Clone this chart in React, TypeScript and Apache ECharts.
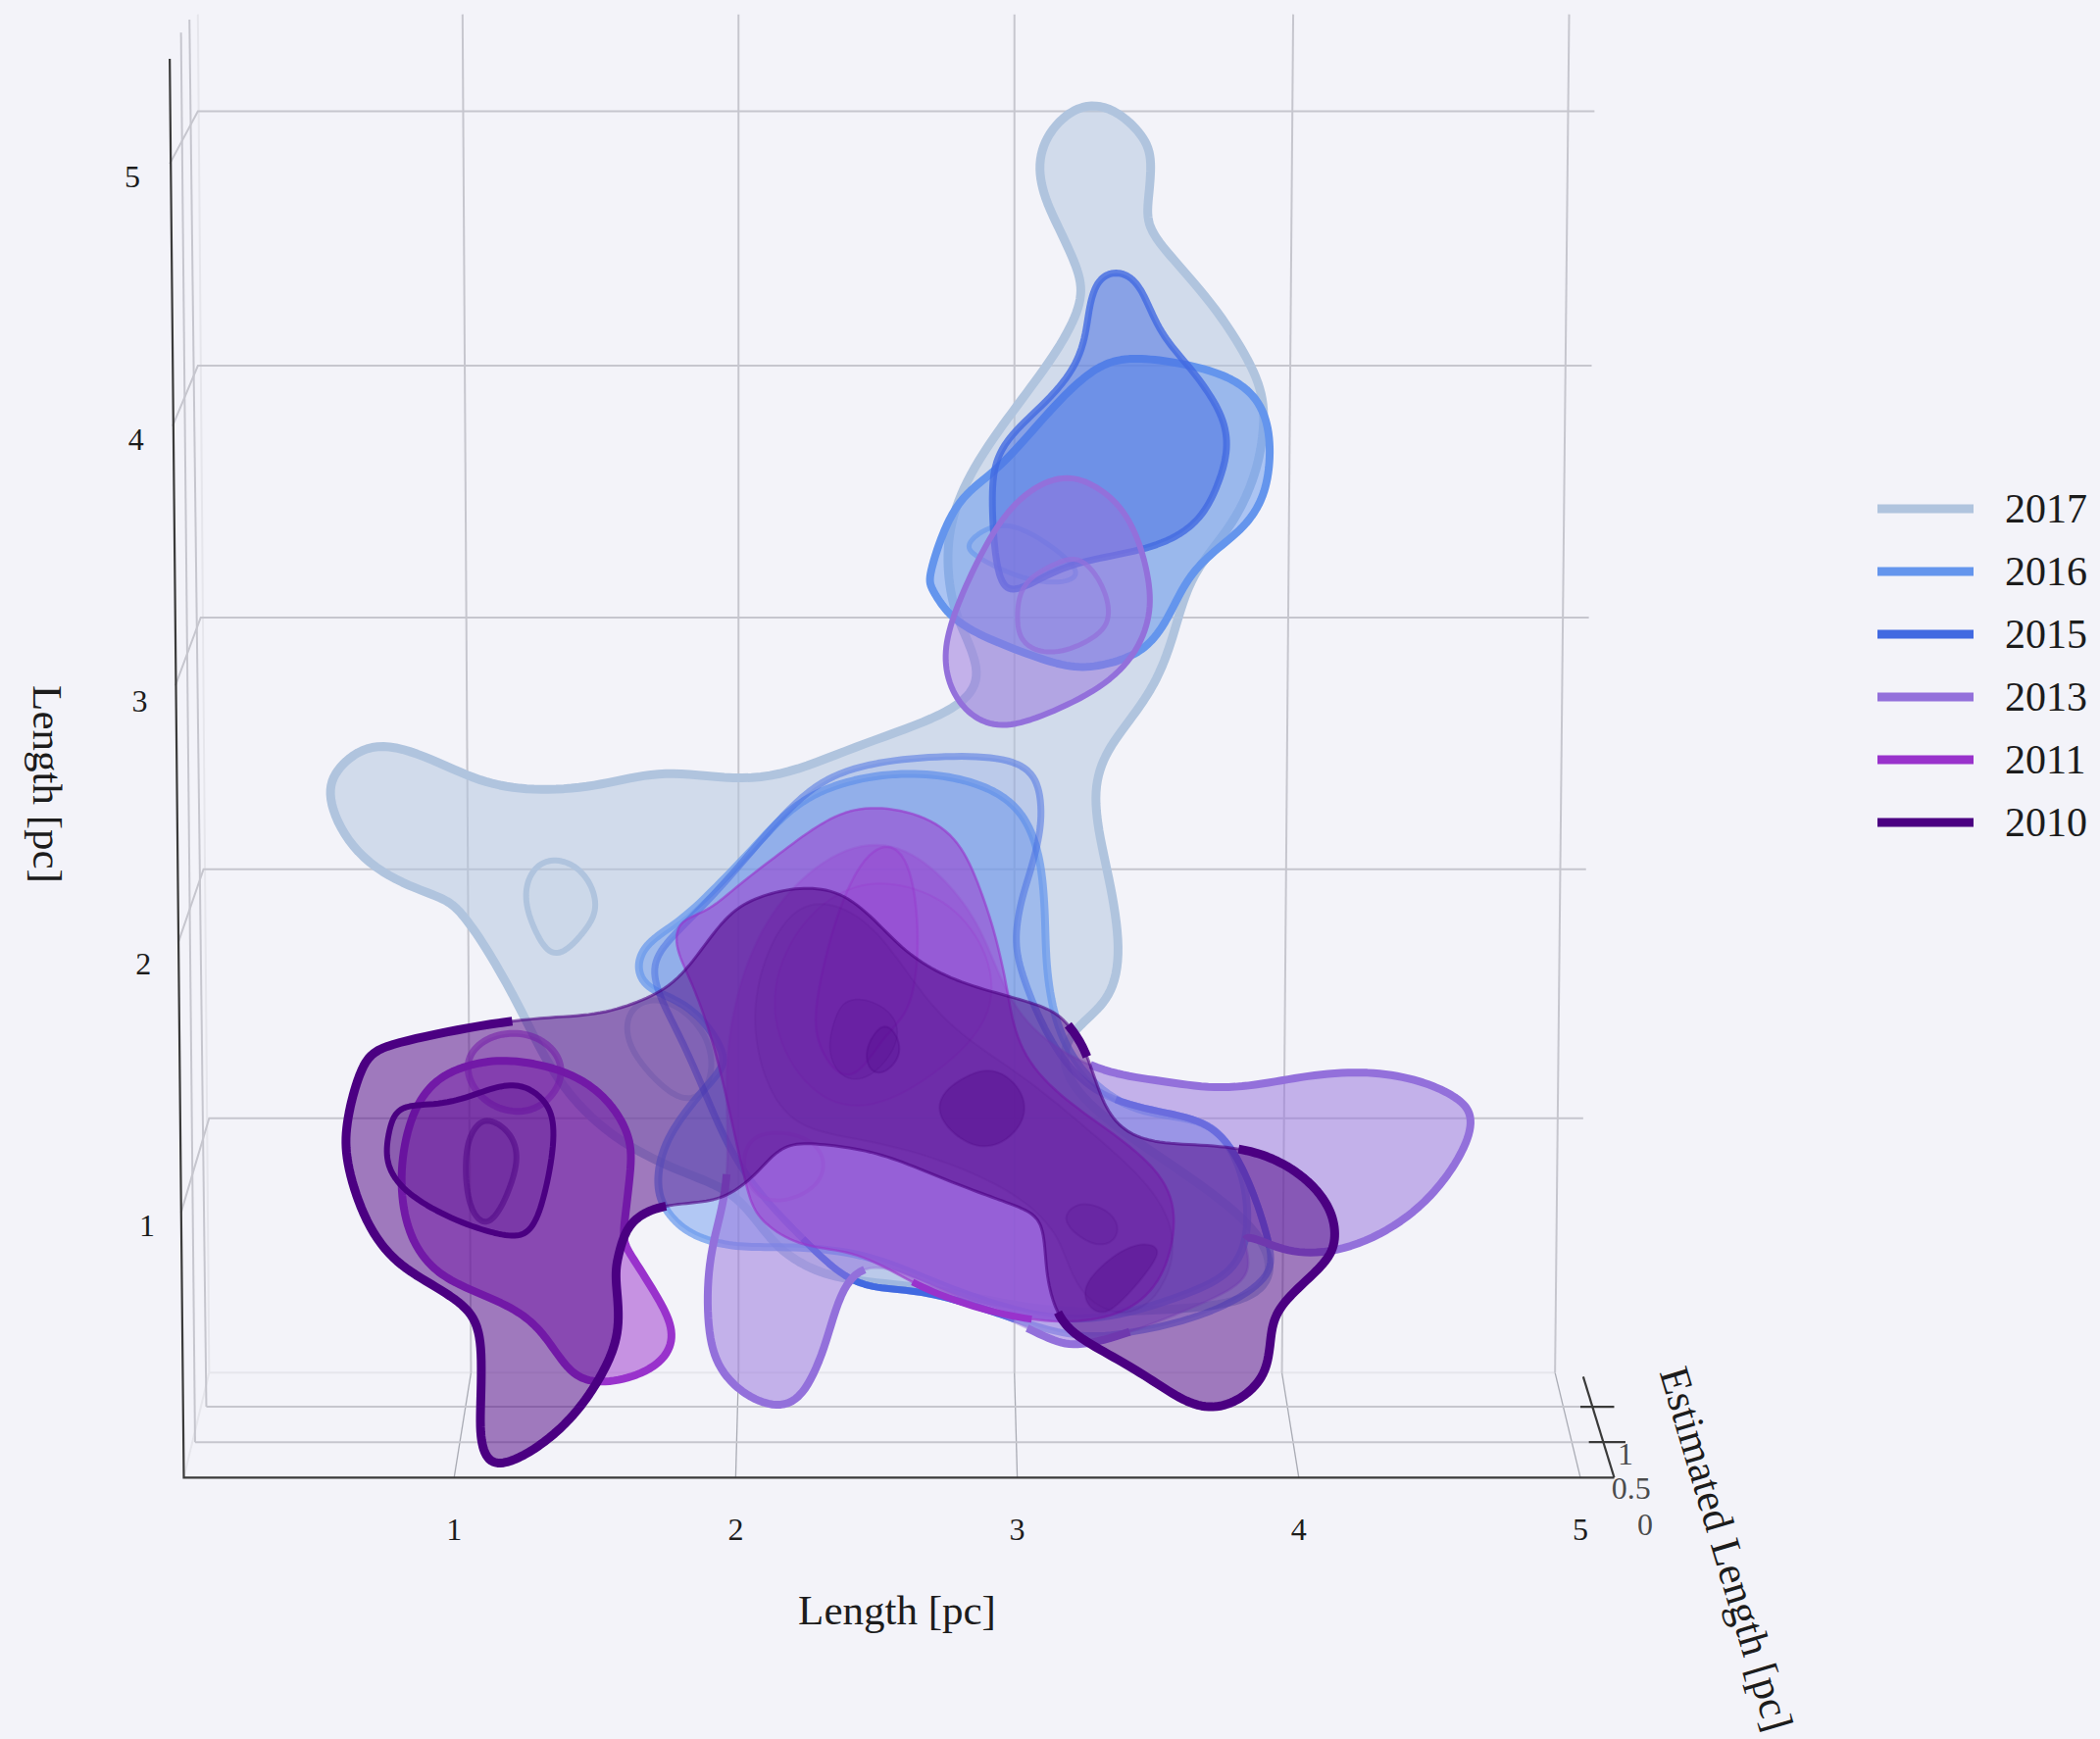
import React, { useEffect, useRef } from "react";
import * as echarts from "echarts";

type P = [number, number];

const xTicks = [1, 2, 3, 4, 5];
const yTicks = [1, 2, 3, 4, 5];
const depthTicks: { name: string; at: P }[] = [
  { name: "1", at: [5.16, 0.13] },
  { name: "0.5", at: [5.18, 0.0] },
  { name: "0", at: [5.23, -0.14] },
];

// ---- contours, in pc ----
const c2017Outer: P[] = [[3.28,5.29],[3.43,5.18],[3.48,5.06],[3.46,4.88],[3.49,4.76],[3.67,4.55],[3.84,4.27],[3.88,4.08],[3.84,3.84],[3.74,3.64],[3.62,3.48],[3.56,3.27],[3.48,3.04],[3.34,2.85],[3.27,2.66],[3.31,2.40],[3.37,2.05],[3.31,1.84],[3.19,1.74],[3.17,1.54],[3.48,1.28],[3.79,1.05],[3.91,0.85],[3.81,0.71],[3.48,0.68],[3.10,0.67],[2.72,0.76],[2.41,0.79],[2.24,0.85],[2.12,0.95],[2.01,1.11],[1.85,1.19],[1.60,1.31],[1.38,1.53],[1.25,1.80],[1.12,2.05],[1.02,2.20],[0.94,2.26],[0.69,2.37],[0.55,2.62],[0.60,2.76],[0.76,2.85],[1.03,2.72],[1.25,2.66],[1.53,2.68],[1.77,2.74],[2.09,2.69],[2.42,2.83],[2.77,2.96],[2.87,3.11],[2.79,3.30],[2.75,3.51],[2.78,3.76],[2.93,4.03],[3.10,4.27],[3.22,4.49],[3.22,4.64],[3.13,4.84],[3.07,5.03],[3.13,5.20]];
const c2017RingA: P[] = [[1.36,2.40],[1.46,2.35],[1.51,2.22],[1.46,2.12],[1.36,2.02],[1.29,2.12],[1.25,2.25],[1.28,2.36]];
const c2017RingB: P[] = [[1.60,1.74],[1.70,1.57],[1.85,1.46],[1.93,1.63],[1.83,1.82],[1.67,1.87]];

const c2016Upper: P[] = [[2.69,3.49],[2.78,3.76],[2.92,3.87],[3.10,4.09],[3.27,4.27],[3.41,4.31],[3.57,4.29],[3.75,4.24],[3.87,4.13],[3.90,3.95],[3.87,3.76],[3.77,3.63],[3.63,3.51],[3.55,3.35],[3.46,3.20],[3.31,3.14],[3.18,3.13],[2.99,3.20],[2.78,3.30],[2.70,3.43]];
const c2016Ring: P[] = [[2.82,3.60],[2.91,3.67],[3.02,3.66],[3.16,3.56],[3.22,3.48],[3.13,3.45],[2.99,3.48],[2.86,3.55]];
const c2016Mid: P[] = [[2.50,2.72],[2.72,2.72],[2.90,2.67],[3.03,2.56],[3.09,2.35],[3.10,2.10],[3.12,1.84],[3.22,1.59],[3.43,1.43],[3.65,1.41],[3.77,1.28],[3.82,1.08],[3.79,0.85],[3.60,0.74],[3.29,0.64],[3.00,0.67],[2.67,0.80],[2.43,0.90],[2.14,0.92],[2.01,0.92],[1.85,0.96],[1.75,1.06],[1.72,1.18],[1.77,1.37],[1.93,1.57],[1.96,1.66],[1.84,1.84],[1.69,1.90],[1.65,2.00],[1.70,2.09],[1.80,2.16],[1.93,2.29],[2.09,2.47],[2.25,2.64]];

const c2015Upper: P[] = [[3.36,4.64],[3.44,4.58],[3.50,4.42],[3.60,4.29],[3.71,4.13],[3.75,3.98],[3.71,3.82],[3.63,3.67],[3.46,3.58],[3.25,3.54],[3.10,3.48],[2.99,3.42],[2.93,3.48],[2.91,3.76],[2.93,3.95],[3.05,4.09],[3.21,4.27],[3.25,4.46],[3.28,4.60]];
const c2015Mid: P[] = [[2.41,2.75],[2.72,2.79],[2.98,2.78],[3.08,2.68],[3.08,2.48],[3.03,2.30],[2.99,2.10],[3.03,1.92],[3.15,1.64],[3.34,1.47],[3.61,1.42],[3.75,1.32],[3.84,1.12],[3.90,0.91],[3.88,0.79],[3.67,0.66],[3.39,0.59],[3.20,0.58],[3.00,0.64],[2.72,0.74],[2.53,0.76],[2.39,0.80],[2.24,0.95],[2.08,1.13],[1.96,1.33],[1.86,1.59],[1.77,1.79],[1.70,1.97],[1.77,2.10],[1.96,2.30],[2.20,2.61]];

const c2013Upper: P[] = [[3.15,3.86],[3.28,3.82],[3.40,3.70],[3.47,3.46],[3.46,3.27],[3.34,3.08],[3.10,2.95],[2.93,2.90],[2.80,2.98],[2.74,3.14],[2.77,3.32],[2.87,3.56],[2.99,3.76]];
const c2013UpperRing: P[] = [[3.22,3.55],[3.30,3.45],[3.33,3.32],[3.27,3.24],[3.13,3.18],[3.02,3.22],[3.00,3.32],[3.02,3.45],[3.13,3.52]];
const c2013Mid: P[] = [[2.48,2.48],[2.72,2.35],[2.89,2.10],[3.00,1.79],[3.27,1.60],[3.48,1.56],[3.73,1.52],[3.96,1.56],[4.20,1.59],[4.41,1.56],[4.56,1.49],[4.62,1.40],[4.55,1.22],[4.37,1.01],[4.10,0.89],[3.91,0.92],[3.79,0.97],[3.84,0.82],[3.67,0.71],[3.39,0.59],[3.19,0.54],[3.06,0.60],[2.72,0.76],[2.44,0.87],[2.34,0.62],[2.25,0.36],[2.12,0.31],[1.96,0.42],[1.90,0.61],[1.91,0.92],[1.98,1.18],[1.96,1.59],[2.03,1.99],[2.20,2.30]];
const c2013MidRing: P[] = [[2.12,1.36],[2.27,1.33],[2.32,1.22],[2.25,1.12],[2.10,1.09],[2.03,1.20],[2.04,1.31]];

const c2011Mid: P[] = [[2.51,2.60],[2.74,2.53],[2.85,2.34],[2.93,2.08],[2.97,1.87],[3.03,1.62],[3.26,1.41],[3.52,1.20],[3.56,0.97],[3.48,0.74],[3.29,0.64],[3.05,0.64],[2.82,0.70],[2.63,0.78],[2.43,0.90],[2.24,0.92],[2.09,1.02],[2.04,1.14],[1.98,1.43],[1.91,1.74],[1.83,1.96],[1.79,2.06],[1.80,2.16],[1.90,2.20],[2.01,2.30],[2.17,2.43],[2.34,2.56]];
const c2011Left: P[] = [[1.23,1.63],[1.47,1.56],[1.61,1.38],[1.63,1.23],[1.60,0.98],[1.62,0.90],[1.74,0.70],[1.78,0.56],[1.70,0.45],[1.53,0.40],[1.41,0.44],[1.32,0.59],[1.19,0.70],[1.00,0.78],[0.87,0.90],[0.81,1.11],[0.83,1.36],[0.92,1.55],[1.08,1.62]];
const c2011Circle: P[] = [[1.21,1.74],[1.33,1.70],[1.39,1.59],[1.33,1.47],[1.22,1.43],[1.10,1.48],[1.04,1.60],[1.09,1.70]];
const c2011Inner: P[] = [[1.13,1.41],[1.23,1.31],[1.20,1.15],[1.15,1.04],[1.10,1.01],[1.05,1.09],[1.04,1.27],[1.07,1.37]];
const c2011Center: P[] = [[2.39,2.29],[2.53,2.47],[2.64,2.32],[2.64,1.86],[2.53,1.74],[2.41,1.54],[2.29,1.69],[2.29,1.89]];
const c2011Wide: P[] = [[2.34,2.28],[2.62,2.30],[2.84,2.15],[2.93,1.84],[2.72,1.59],[2.43,1.43],[2.20,1.59],[2.12,1.94]];

const c2010Main: P[] = [[2.24,2.29],[2.40,2.26],[2.55,2.10],[2.69,1.98],[2.88,1.90],[3.09,1.84],[3.18,1.77],[3.25,1.65],[3.30,1.48],[3.39,1.35],[3.56,1.31],[3.79,1.30],[3.98,1.22],[4.10,1.09],[4.13,0.97],[4.10,0.86],[3.95,0.72],[3.90,0.60],[3.89,0.46],[3.81,0.35],[3.68,0.30],[3.55,0.36],[3.41,0.46],[3.24,0.56],[3.14,0.66],[3.10,0.85],[3.09,1.01],[3.01,1.07],[2.88,1.12],[2.69,1.20],[2.50,1.28],[2.31,1.31],[2.18,1.31],[2.10,1.23],[2.01,1.14],[1.90,1.09],[1.75,1.08],[1.63,1.02],[1.59,0.91],[1.57,0.80],[1.59,0.61],[1.52,0.42],[1.38,0.22],[1.19,0.09],[1.11,0.12],[1.09,0.26],[1.10,0.55],[1.04,0.70],[0.86,0.81],[0.71,0.96],[0.62,1.23],[0.62,1.40],[0.68,1.63],[0.80,1.70],[1.23,1.79],[1.48,1.80],[1.67,1.86],[1.82,1.96],[1.96,2.18],[2.10,2.26]];
const c2010Ring: P[] = [[0.81,1.46],[0.96,1.46],[1.12,1.52],[1.23,1.54],[1.32,1.48],[1.36,1.36],[1.32,1.11],[1.27,0.98],[1.19,0.96],[1.03,1.01],[0.85,1.11],[0.76,1.23],[0.77,1.36]];
const c2010Wide: P[] = [[2.33,2.24],[2.53,2.10],[2.72,1.79],[3.00,1.59],[3.29,1.33],[3.53,1.08],[3.55,0.82],[3.39,0.64],[3.20,0.77],[3.15,0.97],[2.91,1.18],[2.48,1.33],[2.20,1.38],[2.08,1.64],[2.07,1.90],[2.17,2.17]];
const c2010Blob: P[] = [[2.41,1.88],[2.58,1.80],[2.55,1.64],[2.42,1.54],[2.33,1.64],[2.35,1.78]];
const c2010Ellipse: P[] = [[2.54,1.77],[2.59,1.68],[2.55,1.60],[2.49,1.58],[2.46,1.65],[2.49,1.73]];
const c2010Dark: P[] = [[2.92,1.60],[3.02,1.51],[3.02,1.39],[2.92,1.30],[2.81,1.32],[2.72,1.42],[2.74,1.51],[2.82,1.57]];
const c2010LowRing: P[] = [[3.26,1.09],[3.37,1.01],[3.31,0.91],[3.18,0.99],[3.18,1.06]];
const c2010LowDark: P[] = [[3.41,0.93],[3.50,0.92],[3.48,0.85],[3.37,0.71],[3.29,0.66],[3.23,0.74],[3.29,0.84]];

// ---- wireframe, in pc ----
const wallGrid: P[][] = [
  [[1.03,5.62],[1.06,0.44]],[[2.01,5.62],[2.01,0.44]],[[2.99,5.62],[2.99,0.44]],[[3.98,5.62],[3.94,0.44]],[[4.96,5.62],[4.91,0.44]],
  [[-0.01,5.05],[0.09,5.25],[5.05,5.25]],[[0.0,4.05],[0.09,4.28],[5.04,4.28]],[[0.01,3.06],[0.10,3.32],[5.03,3.32]],[[0.02,2.08],[0.11,2.36],[5.02,2.36]],[[0.03,1.05],[0.13,1.41],[5.01,1.41]],
  [[0.12,0.31],[5.0,0.31]],[[0.08,0.175],[5.03,0.175]],[[0.03,5.55],[0.08,0.175]],[[0.06,5.6],[0.12,0.31]],
];
const floorLines: P[][] = [
  [[1.06,0.44],[1.0,0.04]],[[2.01,0.44],[2.0,0.04]],[[2.99,0.44],[3.0,0.04]],[[3.94,0.44],[4.0,0.04]],[[4.91,0.44],[5.0,0.04]],
];
const faintLines: P[][] = [
  [[0.13,0.44],[4.91,0.44]],[[0.09,5.62],[0.13,0.44]],[[0.04,0.04],[0.13,0.44]],
];
const darkAxes: P[][] = [
  [[-0.01,5.45],[0.04,0.04],[5.12,0.04]],[[5.01,0.425],[5.12,0.04]],
  [[5.0,0.31],[5.12,0.31]],[[5.03,0.175],[5.16,0.175]],
];

type Span = [number, number];
type Contour = { points: P[]; fill: number; width: number; strokeAlpha?: number; thick?: Span[]; thickWidth?: number };
const layers: { year: string; color: string; contours: Contour[] }[] = [
  { year: "2017", color: "#b0c4de", contours: [
    { points: c2017Outer, fill: 0.5, width: 9 },
    { points: c2017RingA, fill: 0.12, width: 6 },
    { points: c2017RingB, fill: 0.12, width: 6 },
  ] },
  { year: "2016", color: "#6495ed", contours: [
    { points: c2016Upper, fill: 0.5, width: 8 },
    { points: c2016Ring, fill: 0.12, width: 5, strokeAlpha: 0.6 },
    { points: c2016Mid, fill: 0.45, width: 8, strokeAlpha: 0.7 },
  ] },
  { year: "2015", color: "#4169e1", contours: [
    { points: c2015Upper, fill: 0.5, width: 7, strokeAlpha: 0.8 },
    { points: c2015Mid, fill: 0.15, width: 7, strokeAlpha: 0.5, thick: [[9, 13], [18, 22]], thickWidth: 7 },
  ] },
  { year: "2013", color: "#9370db", contours: [
    { points: c2013Upper, fill: 0.5, width: 6 },
    { points: c2013UpperRing, fill: 0.12, width: 5, strokeAlpha: 0.75 },
    { points: c2013Mid, fill: 0.5, width: 2.5, strokeAlpha: 0.35, thick: [[4, 16], [19, 21], [23, 30]], thickWidth: 8 },
    { points: c2013MidRing, fill: 0.12, width: 4, strokeAlpha: 0.5 },
  ] },
  { year: "2011", color: "#9932cc", contours: [
    { points: c2011Mid, fill: 0.5, width: 2.5, strokeAlpha: 0.6, thick: [[11, 13]], thickWidth: 7 },
    { points: c2011Left, fill: 0.5, width: 8 },
    { points: c2011Circle, fill: 0.2, width: 7, strokeAlpha: 0.55 },
    { points: c2011Wide, fill: 0.1, width: 2, strokeAlpha: 0.2 },
    { points: c2011Center, fill: 0.22, width: 2.5, strokeAlpha: 0.35 },
  ] },
  { year: "2010", color: "#4b0082", contours: [
    { points: c2010Main, fill: 0.5, width: 3, strokeAlpha: 0.6, thick: [[6, 7], [11, 24], [36, 54]], thickWidth: 9 },
    { points: c2010Ring, fill: 0.22, width: 6 },
    { points: c2011Inner, fill: 0.15, width: 6, strokeAlpha: 0.5 },
    { points: c2010Wide, fill: 0.06, width: 2, strokeAlpha: 0.08 },
    { points: c2010Blob, fill: 0.12, width: 1.5, strokeAlpha: 0.15 },
    { points: c2010Ellipse, fill: 0.22, width: 2, strokeAlpha: 0.25 },
    { points: c2010Dark, fill: 0.3, width: 2, strokeAlpha: 0.2 },
    { points: c2010LowRing, fill: 0.12, width: 2, strokeAlpha: 0.15 },
    { points: c2010LowDark, fill: 0.28, width: 2, strokeAlpha: 0.15 },
  ] },
];

const SERIF = "'Liberation Serif','Times New Roman',serif";
const BG = "#f3f3f9";
const INK = "#1c1c1c";
const STEPS = 10;
const WINDOW = 6;

// closed Catmull-Rom through the read points, then a short moving average to take out reading noise
function closedCurve(pts: number[][]): number[][] {
  const n = pts.length;
  const out: number[][] = [];
  for (let i = 0; i < n; i++) {
    const a = pts[(i - 1 + n) % n], b = pts[i], c = pts[(i + 1) % n], d = pts[(i + 2) % n];
    for (let s = 0; s < STEPS; s++) {
      const t = s / STEPS, t2 = t * t, t3 = t2 * t;
      out.push([0, 1].map((k) => 0.5 * (2 * b[k] + (c[k] - a[k]) * t + (2 * a[k] - 5 * b[k] + 4 * c[k] - d[k]) * t2 + (3 * b[k] - a[k] - 3 * c[k] + d[k]) * t3)));
    }
  }
  const m = out.length;
  return out.map((_, i) => {
    let x = 0, y = 0;
    for (let w = -WINDOW; w <= WINDOW; w++) {
      const q = out[(i + w + m) % m];
      x += q[0];
      y += q[1];
    }
    const size = 2 * WINDOW + 1;
    return [x / size, y / size];
  });
}

function contourSeries(layer: (typeof layers)[number]) {
  return {
    type: "custom",
    name: layer.year,
    coordinateSystem: "cartesian2d",
    clip: false,
    silent: true,
    itemStyle: { color: layer.color },
    data: layer.contours.map((c) => c.points[0]),
    renderItem: (params: any, api: any) => {
      const c = layer.contours[params.dataIndex];
      const curve = closedCurve(c.points.map((p) => api.coord(p)));
      const children: any[] = [
        {
          type: "polygon",
          shape: { points: curve },
          style: {
            fill: layer.color,
            fillOpacity: c.fill,
            stroke: layer.color,
            strokeOpacity: c.strokeAlpha ?? 1,
            lineWidth: c.width,
            lineJoin: "round",
          },
        },
      ];
      (c.thick || []).forEach(([a, b]) => {
        children.push({
          type: "polyline",
          shape: { points: curve.slice(a * STEPS, b * STEPS + 1) },
          style: { fill: "none", stroke: layer.color, lineWidth: c.thickWidth, lineCap: "butt", lineJoin: "round" },
        });
      });
      return { type: "group", children };
    },
  };
}

function wireSeries(name: string, lines: P[][], color: string, width: number) {
  return {
    type: "custom",
    name,
    coordinateSystem: "cartesian2d",
    clip: false,
    silent: true,
    data: lines.map((l) => l[0]),
    renderItem: (params: any, api: any) => ({
      type: "polyline",
      shape: { points: lines[params.dataIndex].map((p) => api.coord(p)) },
      style: { fill: "none", stroke: color, lineWidth: width },
    }),
  };
}

const richY: Record<string, any> = {};
yTicks.forEach((v) => {
  richY["a" + v] = { fontFamily: SERIF, fontSize: 32, color: INK, padding: [0, (v - 1) * 3.75, 0, 0] };
});

export default function App() {
  const ref = useRef<HTMLDivElement>(null);
  useEffect(() => {
    document.body.style.margin = "0";
    document.body.style.background = BG;
    const chart = echarts.init(ref.current!, undefined, { renderer: "svg" });
    chart.setOption({
      animation: false,
      backgroundColor: BG,
      textStyle: { fontFamily: SERIF },
      grid: { left: 176, width: 1436, top: 6.6, height: 1511.4, containLabel: false },
      xAxis: {
        type: "value",
        min: 0,
        max: 5,
        interval: 1,
        splitLine: { show: false },
        axisLine: { show: false },
        axisTick: { show: false },
        axisLabel: {
          margin: 26,
          fontSize: 32,
          fontFamily: SERIF,
          color: INK,
          formatter: (v: number) => (xTicks.includes(v) ? String(v) : ""),
        },
        name: "Length [pc]",
        nameLocation: "middle",
        nameGap: 103,
        nameTextStyle: { fontFamily: SERIF, fontSize: 43, color: INK, padding: [0, 0, 0, 42] },
      },
      yAxis: {
        type: "value",
        min: 0,
        max: 5.65,
        interval: 1,
        splitLine: { show: false },
        axisLine: { show: false },
        axisTick: { show: false },
        axisLabel: {
          margin: 18,
          formatter: (v: number) => (yTicks.includes(v) ? `{a${v}|${v}}` : ""),
          rich: richY,
        },
      },
      legend: {
        orient: "vertical",
        left: 1910,
        top: 493,
        itemWidth: 98,
        itemHeight: 9,
        itemGap: 22,
        icon: "rect",
        selectedMode: false,
        textStyle: { fontFamily: SERIF, fontSize: 42, color: INK, padding: [0, 0, 0, 27], lineHeight: 42 },
        data: layers.map((l) => ({ name: l.year, itemStyle: { color: l.color } })),
      },
      graphic: [
        {
          type: "text",
          x: 48,
          y: 800,
          rotation: -Math.PI / 2,
          style: { text: "Length [pc]", fontFamily: SERIF, fontSize: 43, fill: INK, align: "center", verticalAlign: "middle" },
        },
        {
          type: "text",
          x: 1761,
          y: 1580,
          rotation: (-73.5 * Math.PI) / 180,
          style: { text: "Estimated Length [pc]", fontFamily: SERIF, fontSize: 43, fill: INK, align: "center", verticalAlign: "middle" },
        },
      ],
      series: [
        wireSeries("faint", faintLines, "#e6e6ec", 2),
        wireSeries("floor", floorLines, "#a9abb4", 1.3),
        wireSeries("walls", wallGrid, "#c6c6ce", 2),
        wireSeries("axes", darkAxes, "#3a3a3a", 2.2),
        ...layers.map(contourSeries),
        {
          type: "scatter",
          name: "depth ticks",
          silent: true,
          symbolSize: 1,
          itemStyle: { color: "rgba(0,0,0,0)" },
          clip: false,
          data: depthTicks.map((d) => ({ name: d.name, value: d.at })),
          label: {
            show: true,
            position: "inside",
            formatter: "{b}",
            fontFamily: SERIF,
            fontSize: 32,
            color: INK,
          },
        },
      ],
    });
    return () => chart.dispose();
  }, []);
  return <div ref={ref} style={{ width: 2142, height: 1774 }} />;
}
